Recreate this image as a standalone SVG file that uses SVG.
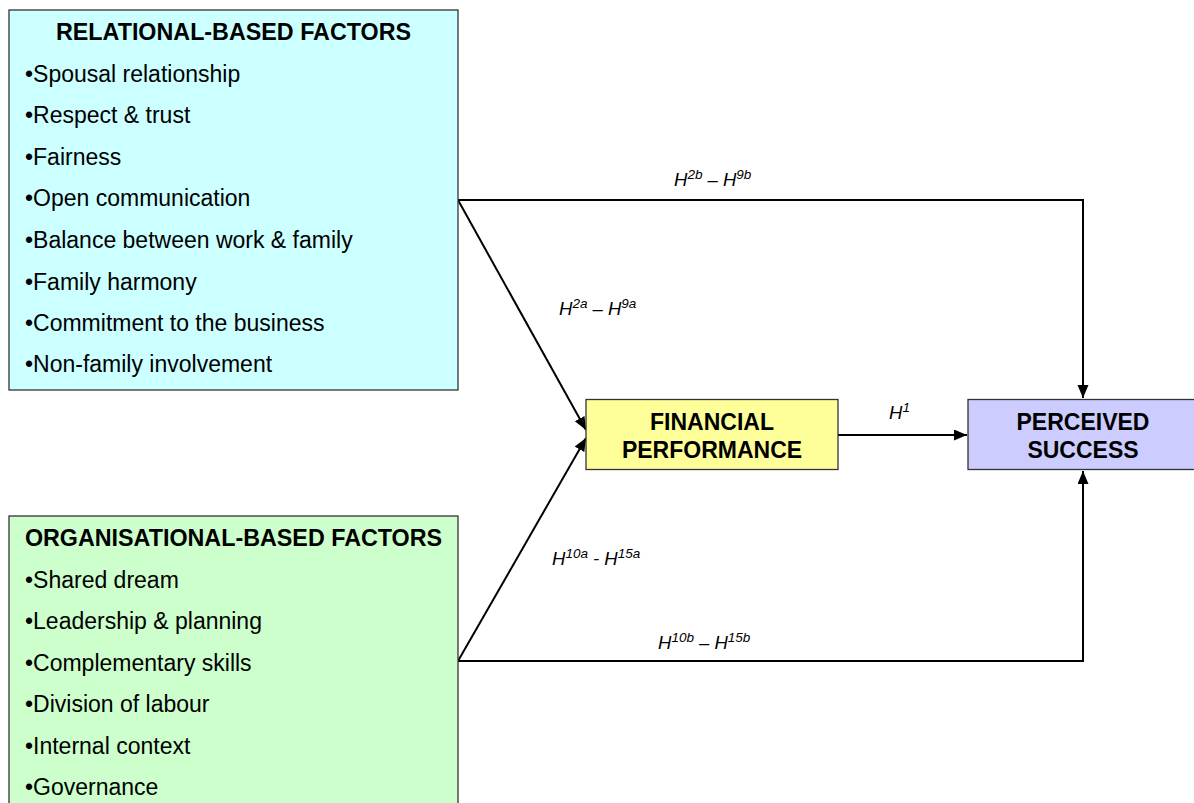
<svg xmlns="http://www.w3.org/2000/svg" width="1194" height="803" viewBox="0 0 1194 803">
  <defs>
    <marker id="arrow" markerUnits="userSpaceOnUse" markerWidth="14" markerHeight="12" refX="13" refY="5.5" orient="auto">
      <path d="M0,0 L13,5.5 L0,11 z" fill="#000"/>
    </marker>
    <style>
      .box { stroke: #333; stroke-width: 1.3; }
      .title { font-family: "Liberation Sans", Arial, sans-serif; font-weight: bold; font-size: 23.3px; fill: #000; }
      .node { font-family: "Liberation Sans", Arial, sans-serif; font-weight: bold; font-size: 23px; fill: #000; }
      .item { font-family: "Liberation Sans", Arial, sans-serif; font-size: 23px; fill: #000; }
      .lbl { font-family: "Liberation Sans", Arial, sans-serif; font-style: italic; font-size: 18.5px; fill: #000; }
      .sup { font-size: 13.5px; }
      .conn { fill: none; stroke: #000; stroke-width: 2; }
    </style>
  </defs>

  <rect width="1194" height="803" fill="#fff"/>

  <!-- connectors -->
  <g id="connectors">
    <polyline class="conn" points="458,200 1083,200 1083,398" marker-end="url(#arrow)"/>
    <line class="conn" x1="458" y1="200" x2="586" y2="430" marker-end="url(#arrow)"/>
    <line class="conn" x1="458" y1="661" x2="586" y2="438" marker-end="url(#arrow)"/>
    <polyline class="conn" points="458,661 1083,661 1083,471" marker-end="url(#arrow)"/>
    <line class="conn" x1="838" y1="435" x2="967" y2="435" marker-end="url(#arrow)"/>

    <text class="lbl" x="674" y="186">H<tspan class="sup" dy="-7">2b</tspan><tspan dy="7"> – H</tspan><tspan class="sup" dy="-7">9b</tspan></text>
    <text class="lbl" x="559" y="315">H<tspan class="sup" dy="-7">2a</tspan><tspan dy="7"> – H</tspan><tspan class="sup" dy="-7">9a</tspan></text>
    <text class="lbl" x="889" y="419">H<tspan class="sup" dy="-7">1</tspan></text>
    <text class="lbl" x="552" y="565">H<tspan class="sup" dy="-7">10a</tspan><tspan dy="7"> - H</tspan><tspan class="sup" dy="-7">15a</tspan></text>
    <text class="lbl" x="658" y="649">H<tspan class="sup" dy="-7">10b</tspan><tspan dy="7"> – H</tspan><tspan class="sup" dy="-7">15b</tspan></text>
  </g>

  <!-- relational factors -->
  <g id="relational">
    <rect class="box" x="9" y="10" width="449" height="380" fill="#CCFFFF"/>
    <text class="title" x="233.5" y="40" text-anchor="middle">RELATIONAL-BASED FACTORS</text>
    <text class="item" x="25" y="82">•Spousal relationship</text>
    <text class="item" x="25" y="123">•Respect &amp; trust</text>
    <text class="item" x="25" y="165">•Fairness</text>
    <text class="item" x="25" y="206">•Open communication</text>
    <text class="item" x="25" y="248">•Balance between work &amp; family</text>
    <text class="item" x="25" y="290">•Family harmony</text>
    <text class="item" x="25" y="331">•Commitment to the business</text>
    <text class="item" x="25" y="372">•Non-family involvement</text>
  </g>

  <!-- organisational factors -->
  <g id="organisational">
    <rect class="box" x="9" y="516" width="449" height="300" fill="#CCFFCC"/>
    <text class="title" x="233.5" y="546" text-anchor="middle">ORGANISATIONAL-BASED FACTORS</text>
    <text class="item" x="25" y="588">•Shared dream</text>
    <text class="item" x="25" y="629">•Leadership &amp; planning</text>
    <text class="item" x="25" y="671">•Complementary skills</text>
    <text class="item" x="25" y="712">•Division of labour</text>
    <text class="item" x="25" y="754">•Internal context</text>
    <text class="item" x="25" y="795">•Governance</text>
  </g>

  <!-- financial performance -->
  <g id="financial">
    <rect class="box" x="586" y="399.5" width="252" height="70" fill="#FFFF99"/>
    <text class="node" x="712" y="430" text-anchor="middle">FINANCIAL</text>
    <text class="node" x="712" y="458" text-anchor="middle">PERFORMANCE</text>
  </g>

  <!-- perceived success -->
  <g id="perceived">
    <rect class="box" x="968" y="399.5" width="230" height="70" fill="#CCCCFF"/>
    <text class="node" x="1083" y="430" text-anchor="middle">PERCEIVED</text>
    <text class="node" x="1083" y="458" text-anchor="middle">SUCCESS</text>
  </g>
</svg>
